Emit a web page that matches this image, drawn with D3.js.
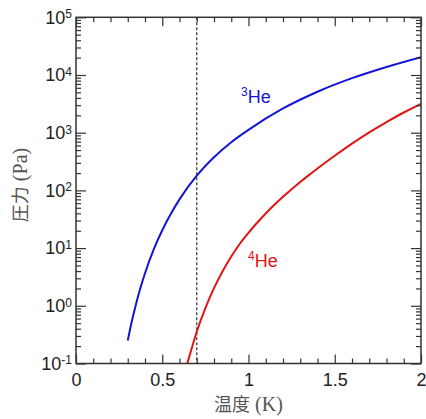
<!DOCTYPE html>
<html>
<head>
<meta charset="utf-8">
<script src="https://cdn.jsdelivr.net/npm/d3@7"></script>
<style>
  body { margin: 0; background: #fff; }
  svg text { font-family: "Liberation Sans", Arial, sans-serif; fill: #222; }
</style>
</head>
<body>
<div id="vis"></div>
<script>
const FRAME_WIDTH = 426;
const FRAME_HEIGHT = 419;
const MARGINS = {left: 76, right: 5, top: 17.3, bottom: 55.5};

// temperatures (K) and vapour pressures (Pa)
const he3Temp = [0.30, 0.325, 0.35, 0.375, 0.40, 0.45, 0.50, 0.55, 0.60, 0.70, 0.80, 0.90, 1.00,
                 1.20, 1.40, 1.60, 1.80, 2.00];
const he3Pres = [0.25, 0.56, 1.135, 2.11, 3.67, 9.44, 20.4, 39.4, 70, 180, 376, 684, 1122,
                 2630, 5130, 8810, 13800, 20400];

const he4Temp = [0.64, 0.65, 0.70, 0.75, 0.80, 0.85, 0.90, 0.95, 1.00, 1.05, 1.10, 1.15, 1.20,
                 1.25, 1.30, 1.35, 1.40, 1.50, 1.60, 1.70, 1.80, 1.90, 2.00];
const he4Pres = [0.089, 0.112, 0.355, 0.912, 2.02, 3.98, 7.16, 11.9, 18.4, 27.5, 39.8, 56.2, 77.6,
                 105, 140, 184, 240, 398, 646, 1012, 1531, 2239, 3162];

const xTicks = [0, 0.5, 1, 1.5, 2];
const yExponents = [-1, 0, 1, 2, 3, 4, 5];
const markerT = 0.7;

const VIS_WIDTH = FRAME_WIDTH - MARGINS.left - MARGINS.right;
const VIS_HEIGHT = FRAME_HEIGHT - MARGINS.top - MARGINS.bottom;

const svg = d3.select('#vis')
  .append('svg')
    .attr('width', FRAME_WIDTH)
    .attr('height', FRAME_HEIGHT);

const X_SCALE = d3.scaleLinear().domain([0, 2]).range([MARGINS.left, MARGINS.left + VIS_WIDTH]);
const Y_SCALE = d3.scaleLog().domain([0.1, 1e5]).range([MARGINS.top + VIS_HEIGHT, MARGINS.top]);

// minor tick positions
const xMinor = d3.range(0, 21).map(i => i / 10).filter(v => Math.abs(v * 2 - Math.round(v * 2)) > 1e-6);
const yMinor = [];
yExponents.slice(0, -1).forEach(e => {
  for (let k = 2; k <= 9; k++) yMinor.push(k * Math.pow(10, e));
});
const yMajor = yExponents.map(e => Math.pow(10, e));

const bottomY = MARGINS.top + VIS_HEIGHT;
const rightX = MARGINS.left + VIS_WIDTH;

function styleAxis(g) {
  g.select('.domain').remove();
  g.selectAll('line').attr('stroke', '#333').attr('stroke-width', 1.2);
}

// clip for curves
svg.append('clipPath').attr('id', 'plot-clip')
  .append('rect')
    .attr('x', MARGINS.left).attr('y', MARGINS.top)
    .attr('width', VIS_WIDTH).attr('height', VIS_HEIGHT);

// dashed marker at 0.7 K
svg.append('line')
  .attr('x1', X_SCALE(markerT)).attr('x2', X_SCALE(markerT))
  .attr('y1', MARGINS.top).attr('y2', bottomY)
  .attr('stroke', '#444')
  .attr('stroke-width', 1.3)
  .attr('stroke-dasharray', '3,2');

const line = d3.line()
  .x(d => X_SCALE(d[0]))
  .y(d => Y_SCALE(d[1]))
  .curve(d3.curveMonotoneX);

svg.append('path')
  .datum(d3.zip(he3Temp, he3Pres))
  .attr('d', line)
  .attr('clip-path', 'url(#plot-clip)')
  .attr('fill', 'none')
  .attr('stroke', '#1414d6')
  .attr('stroke-width', 2);

svg.append('path')
  .datum(d3.zip(he4Temp, he4Pres))
  .attr('d', line)
  .attr('clip-path', 'url(#plot-clip)')
  .attr('fill', 'none')
  .attr('stroke', '#e31414')
  .attr('stroke-width', 2);

// x axes (bottom with labels, top ticks only)
svg.append('g')
  .attr('transform', 'translate(0,' + bottomY + ')')
  .call(d3.axisBottom(X_SCALE).tickValues(xMinor).tickSize(-5).tickFormat(''))
  .call(styleAxis);
svg.append('g')
  .attr('transform', 'translate(0,' + bottomY + ')')
  .call(d3.axisBottom(X_SCALE).tickValues(xTicks).tickSize(-9).tickPadding(10)
        .tickFormat(d => d3.format('')(d)))
  .call(styleAxis)
  .selectAll('text')
    .attr('font-size', '18px')
    .attr('fill', '#222');

svg.append('g')
  .attr('transform', 'translate(0,' + MARGINS.top + ')')
  .call(d3.axisTop(X_SCALE).tickValues(xMinor).tickSize(-5).tickFormat(''))
  .call(styleAxis);
svg.append('g')
  .attr('transform', 'translate(0,' + MARGINS.top + ')')
  .call(d3.axisTop(X_SCALE).tickValues(xTicks).tickSize(-9).tickFormat(''))
  .call(styleAxis);

// y axes
svg.append('g')
  .attr('transform', 'translate(' + MARGINS.left + ',0)')
  .call(d3.axisLeft(Y_SCALE).tickValues(yMinor).tickSize(-5).tickFormat(''))
  .call(styleAxis);
const yLeft = svg.append('g')
  .attr('transform', 'translate(' + MARGINS.left + ',0)')
  .call(d3.axisLeft(Y_SCALE).tickValues(yMajor).tickSize(-10).tickPadding(4).tickFormat(() => '10'))
  .call(styleAxis);
yLeft.selectAll('text')
  .attr('font-size', '18px')
  .attr('fill', '#222')
  .append('tspan')
    .attr('dy', '-0.45em')
    .attr('font-size', '12px')
    .text(d => Math.round(Math.log10(d)));

svg.append('g')
  .attr('transform', 'translate(' + rightX + ',0)')
  .call(d3.axisRight(Y_SCALE).tickValues(yMinor).tickSize(-5).tickFormat(''))
  .call(styleAxis);
svg.append('g')
  .attr('transform', 'translate(' + rightX + ',0)')
  .call(d3.axisRight(Y_SCALE).tickValues(yMajor).tickSize(-10).tickFormat(''))
  .call(styleAxis);

// frame
svg.append('rect')
  .attr('x', MARGINS.left).attr('y', MARGINS.top)
  .attr('width', VIS_WIDTH).attr('height', VIS_HEIGHT)
  .attr('fill', 'none')
  .attr('stroke', '#333')
  .attr('stroke-width', 1.5);

// curve labels
function isoLabel(mass, x, y, color) {
  const t = svg.append('text')
    .attr('x', x).attr('y', y)
    .attr('font-size', '18px')
    .style('fill', color);
  t.append('tspan').attr('font-size', '12px').attr('dy', '-0.62em').text(mass);
  t.append('tspan').attr('dy', '0.4em').text('He');
}
isoLabel('3', 241, 103, '#1414d6');
isoLabel('4', 248, 267, '#e31414');

// axis titles
const xTitle = svg.append('text')
  .attr('x', X_SCALE(1))
  .attr('y', 411)
  .attr('text-anchor', 'middle')
  .style('fill', '#555')
  .attr('font-size', '18px');
xTitle.append('tspan').style('font-family', '"Noto Sans CJK JP", sans-serif').text('温度');
xTitle.append('tspan').style('font-family', '"Liberation Serif", serif').attr('font-size', '20px').text(' (K)');

const yTitle = svg.append('text')
  .attr('transform', 'translate(27,' + 185 + ') rotate(-90)')
  .attr('text-anchor', 'middle')
  .style('fill', '#555')
  .attr('font-size', '18px');
yTitle.append('tspan').style('font-family', '"Noto Sans CJK JP", sans-serif').text('圧力');
yTitle.append('tspan').style('font-family', '"Liberation Serif", serif').attr('font-size', '20px').text(' (Pa)');
</script>
</body>
</html>
